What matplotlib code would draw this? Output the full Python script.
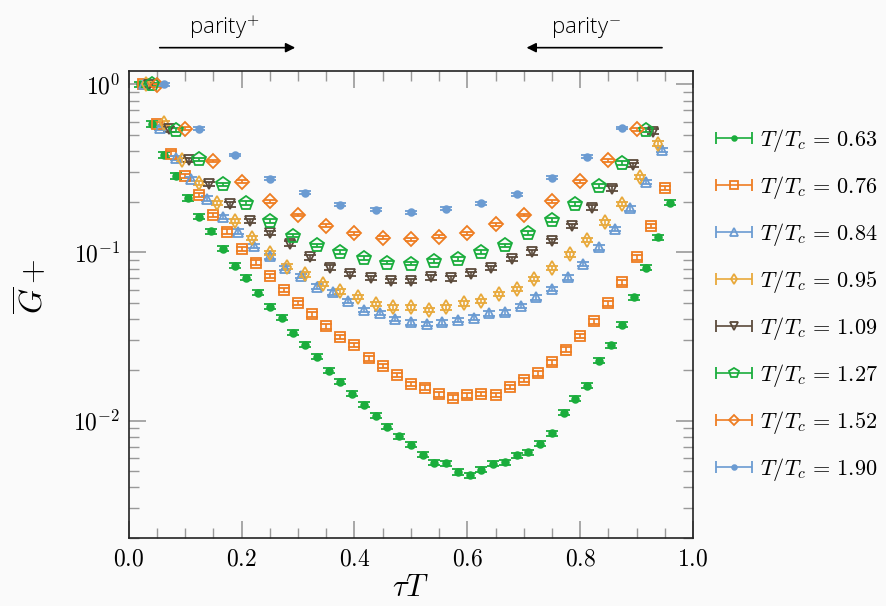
import numpy as np
import matplotlib
matplotlib.use('Agg')
import matplotlib.pyplot as plt
from matplotlib.ticker import MultipleLocator, FuncFormatter, LogLocator, NullFormatter
from matplotlib.container import ErrorbarContainer
from matplotlib.legend_handler import HandlerErrorbar

plt.rcParams['mathtext.fontset'] = 'cm'

# T/Tc и число временных срезов Nt (tau*T = n/Nt)
t_ratio = ['0.63', '0.76', '0.84', '0.95', '1.09', '1.27', '1.52', '1.90']
n_t = [48, 40, 36, 32, 28, 24, 20, 16]

# нормированный коррелятор G+, точки n = 1 .. Nt-2
g_063 = [1.00, 0.581, 0.380, 0.285, 0.211, 0.163, 0.134, 0.105, 0.0832, 0.0707,
         0.0575, 0.0475, 0.0409, 0.0333, 0.0282, 0.0240, 0.0198, 0.0170, 0.0144, 0.0124,
         0.0107, 0.00920, 0.00808, 0.00719, 0.00627, 0.00562, 0.00558, 0.00494, 0.00471, 0.00511,
         0.00554, 0.00566, 0.00623, 0.00649, 0.00726, 0.00839, 0.0111, 0.0135, 0.0161, 0.0227,
         0.0281, 0.0371, 0.0540, 0.0813, 0.123, 0.198]
g_076 = [1.00, 0.583, 0.387, 0.285, 0.219, 0.167, 0.133, 0.105, 0.0871, 0.0726,
         0.0597, 0.0502, 0.0428, 0.0363, 0.0315, 0.0281, 0.0234, 0.0211, 0.0187, 0.0165,
         0.0157, 0.0143, 0.0137, 0.0141, 0.0144, 0.0142, 0.0158, 0.0174, 0.0191, 0.0222,
         0.0264, 0.0319, 0.0389, 0.0497, 0.0663, 0.0933, 0.144, 0.241]
g_084 = [1.00, 0.552, 0.366, 0.273, 0.209, 0.163, 0.133, 0.109, 0.0948, 0.0807,
         0.0726, 0.0626, 0.0578, 0.0516, 0.0456, 0.0436, 0.0402, 0.0383, 0.0375, 0.0383,
         0.0396, 0.0410, 0.0434, 0.0440, 0.0482, 0.0540, 0.0608, 0.0711, 0.0855, 0.107,
         0.138, 0.183, 0.263, 0.407]
g_095 = [1.00, 0.591, 0.354, 0.258, 0.197, 0.154, 0.122, 0.0995, 0.0824, 0.0741,
         0.0648, 0.0586, 0.0545, 0.0493, 0.0471, 0.0471, 0.0456, 0.0471, 0.0497, 0.0516,
         0.0565, 0.0605, 0.0694, 0.0807, 0.0972, 0.119, 0.151, 0.195, 0.282, 0.444]
g_109 = [0.99, 0.540, 0.355, 0.256, 0.193, 0.154, 0.131, 0.113, 0.0933, 0.0813,
         0.0743, 0.0704, 0.0678, 0.0678, 0.0710, 0.0700, 0.0743, 0.0807, 0.0912, 0.0999,
         0.117, 0.144, 0.185, 0.240, 0.332, 0.523]
g_127 = [1.00, 0.533, 0.358, 0.254, 0.196, 0.154, 0.126, 0.110, 0.101, 0.0925,
         0.0871, 0.0859, 0.0892, 0.0912, 0.101, 0.110, 0.131, 0.156, 0.194, 0.249,
         0.342, 0.535]
g_152 = [0.99, 0.545, 0.350, 0.263, 0.202, 0.167, 0.144, 0.130, 0.122, 0.120,
         0.124, 0.130, 0.147, 0.167, 0.202, 0.265, 0.354, 0.540]
g_190 = [1.00, 0.545, 0.380, 0.275, 0.227, 0.192, 0.179, 0.173, 0.182, 0.196,
         0.222, 0.279, 0.370, 0.550]
series = [g_063, g_076, g_084, g_095, g_109, g_127, g_152, g_190]

# оценка относительной ошибки для каждой серии
rel_err = [0.035, 0.03, 0.03, 0.03, 0.03, 0.025, 0.02, 0.02]

colors = ['#1aad3c', '#ee7d22', '#6b9bd2', '#e8a93b', '#5b4a3b', '#1aad3c', '#ee7d22', '#6b9bd2']
markers = ['o', 's', '^', 'd', 'v', 'p', 'D', 'o']
msizes = [4.8, 7.8, 7.8, 7, 7.5, 10, 7.6, 4.8]
filled = [True, False, False, False, False, False, False, True]

fig = plt.figure(figsize=(8.86, 6.06), dpi=100, facecolor='#fafafa')
ax = fig.add_axes([0.1453, 0.1122, 0.6369, 0.7706], facecolor='#fafafa')

handles = []
labels = []
for g, nt, tr, c, m, ms, f, re in zip(series, n_t, t_ratio, colors, markers, msizes, filled, rel_err):
    n = np.arange(1, len(g) + 1)
    x = n / nt
    y = np.array(g)
    cont = ax.errorbar(x, y, yerr=y * re, fmt=m, ms=ms, color=c,
                       mfc=c if f else 'none', mec=c, mew=1.3,
                       elinewidth=1.2, capsize=4.5, capthick=1.5, ecolor=c)
    # в легенде ошибка рисуется горизонтальной чертой
    handles.append(ErrorbarContainer(cont.lines, has_xerr=True, has_yerr=False))
    labels.append(r'$T/T_c\,=\,%s$' % tr)

ax.set_yscale('log')
ax.set_xlim(0.0, 1.0)
ax.set_ylim(0.002, 1.2)

ax.xaxis.set_major_locator(MultipleLocator(0.2))
ax.xaxis.set_minor_locator(MultipleLocator(0.05))
ax.xaxis.set_major_formatter(FuncFormatter(lambda v, p: r'$%.1f$' % v))
ax.yaxis.set_major_locator(LogLocator(base=10))
ax.yaxis.set_minor_locator(LogLocator(base=10, subs=np.arange(2, 10)))
ax.yaxis.set_minor_formatter(NullFormatter())
ax.yaxis.set_major_formatter(FuncFormatter(lambda v, p: r'$10^{%d}$' % int(round(np.log10(v)))))

ax.tick_params(which='both', direction='in', top=True, right=True, colors='#999999',
               labelcolor='black', labelsize=17, pad=6)
ax.tick_params(which='major', length=12, width=1.2)
ax.tick_params(which='minor', length=7, width=1.0)
for s in ax.spines.values():
    s.set_color('#222222')
    s.set_linewidth(1.2)

ax.set_xlabel(r'$\tau T$', fontsize=22, labelpad=2)
ax.set_ylabel(r'$\overline{G}+$', fontsize=23, labelpad=10)
ax.yaxis.set_label_coords(-0.14, 0.54)

# стрелки parity
ax.annotate('', xy=(0.30, 1.05), xytext=(0.05, 1.05),
            xycoords=('data', 'axes fraction'), annotation_clip=False,
            arrowprops=dict(arrowstyle='-|>', lw=1.2, color='black', mutation_scale=14))
ax.annotate('', xy=(0.70, 1.05), xytext=(0.95, 1.05),
            xycoords=('data', 'axes fraction'), annotation_clip=False,
            arrowprops=dict(arrowstyle='-|>', lw=1.2, color='black', mutation_scale=14))
ax.text(0.17, 1.093, r'parity$^{+}$', transform=ax.get_xaxis_transform(),
        ha='center', va='center', fontsize=16, family='Open Sans', fontweight='light')
ax.text(0.81, 1.093, r'parity$^{-}$', transform=ax.get_xaxis_transform(),
        ha='center', va='center', fontsize=16, family='Open Sans', fontweight='light')

ax.legend(handles, labels, loc='center left', bbox_to_anchor=(1.025, 0.5),
          frameon=False, fontsize=16, labelspacing=0.9, handlelength=1.63,
          handletextpad=0.35, borderaxespad=0, markerscale=0.7,
          handler_map={ErrorbarContainer: HandlerErrorbar(xerr_size=0.815)})

fig.savefig('out.png', dpi=100, facecolor=fig.get_facecolor())
